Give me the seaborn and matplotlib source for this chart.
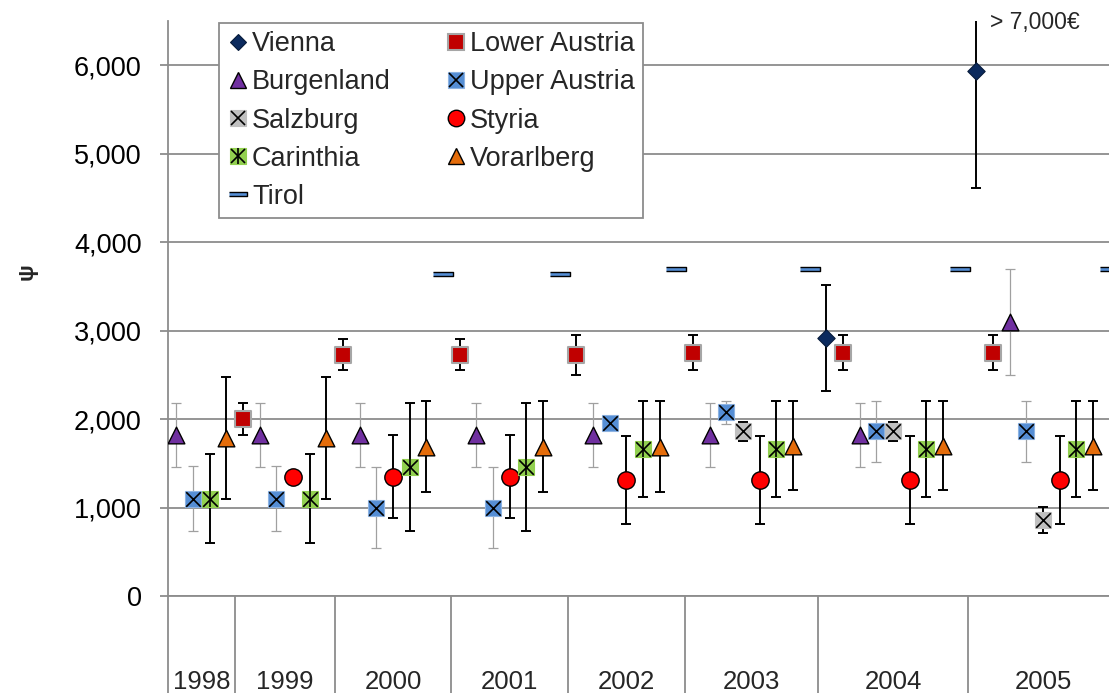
import numpy as np
import pandas as pd
import matplotlib
matplotlib.use("Agg")
import matplotlib.pyplot as plt
from matplotlib.lines import Line2D
from matplotlib.ticker import FuncFormatter
import seaborn as sns

years = ["1998", "1999", "2000", "2001", "2002", "2003", "2004", "2005"]
regions = ["Vienna", "Lower Austria", "Burgenland", "Upper Austria", "Salzburg",
           "Styria", "Carinthia", "Vorarlberg", "Tirol"]

# one entry per category slot on the x axis
cat_year = (["1998"] * 4 + ["1999"] * 6 + ["2000"] * 7 + ["2001"] * 7 + ["2002"] * 7
            + ["2003"] * 8 + ["2004"] * 9 + ["2005"] * 9)
cat_region = [
    "Burgenland", "Upper Austria", "Carinthia", "Vorarlberg",
    "Lower Austria", "Burgenland", "Upper Austria", "Styria", "Carinthia", "Vorarlberg",
    "Lower Austria", "Burgenland", "Upper Austria", "Styria", "Carinthia", "Vorarlberg", "Tirol",
    "Lower Austria", "Burgenland", "Upper Austria", "Styria", "Carinthia", "Vorarlberg", "Tirol",
    "Lower Austria", "Burgenland", "Upper Austria", "Styria", "Carinthia", "Vorarlberg", "Tirol",
    "Lower Austria", "Burgenland", "Upper Austria", "Salzburg", "Styria", "Carinthia",
    "Vorarlberg", "Tirol",
    "Vienna", "Lower Austria", "Burgenland", "Upper Austria", "Salzburg", "Styria",
    "Carinthia", "Vorarlberg", "Tirol",
    "Vienna", "Lower Austria", "Burgenland", "Upper Austria", "Salzburg", "Styria",
    "Carinthia", "Vorarlberg", "Tirol",
]
value = [
    1820, 1100, 1100, 1790,
    2000, 1820, 1100, 1350, 1100, 1790,
    2730, 1820, 1000, 1350, 1460, 1690, 3640,
    2730, 1820, 1000, 1350, 1460, 1690, 3640,
    2725, 1820, 1960, 1310, 1660, 1690, 3700,
    2750, 1820, 2075, 1860, 1310, 1660, 1700, 3700,
    2920, 2750, 1820, 1860, 1860, 1310, 1660, 1700, 3700,
    5930, 2750, 3100, 1860, 860, 1310, 1660, 1700, 3700,
]
error = [
    360, 365, 500, 690,
    180, 360, 365, np.nan, 500, 690,
    180, 360, 455, 470, 725, 512, np.nan,
    180, 360, 455, 470, 725, 512, np.nan,
    222, 360, np.nan, 500, 545, 512, np.nan,
    195, 360, 125, 105, 500, 545, 500, np.nan,
    600, 195, 360, 350, 105, 500, 545, 500, np.nan,
    1320, 195, 600, 350, 145, 500, 545, 500, np.nan,
]

tirol_bar = [(-1, -0.19), (1, -0.19), (1, 0.19), (-1, 0.19)]
style = {
    "Vienna":        dict(marker="D", s=78, color="#0b2a5e", edge="#061a3a", lw=0.8, over=[], ecol="black"),
    "Lower Austria": dict(marker="s", s=144, color="#c00000", edge="#a6a6a6", lw=1.5, over=[], ecol="black"),
    "Burgenland":    dict(marker="^", s=144, color="#7030a0", edge="black", lw=1.0, over=[], ecol="#a0a0a0"),
    "Upper Austria": dict(marker="s", s=144, color="#558ed5", edge="#8db3e2", lw=0.8, over=["x"], ecol="#a0a0a0"),
    "Salzburg":      dict(marker="s", s=144, color="#c0c0c0", edge="#c0c0c0", lw=0.8, over=["x"], ecol="black"),
    "Styria":        dict(marker="o", s=156, color="#ff0000", edge="black", lw=1.0, over=[], ecol="black"),
    "Carinthia":     dict(marker="s", s=144, color="#92d050", edge="#92d050", lw=0.8, over=["x", "|"], ecol="black"),
    "Vorarlberg":    dict(marker="^", s=144, color="#e46c0a", edge="black", lw=1.0, over=[], ecol="black"),
    "Tirol":         dict(marker=tirol_bar, s=207, color="#558ed5", edge="black", lw=1.0, over=[], ecol="black"),
}

df = pd.DataFrame({"year": cat_year, "region": cat_region, "value": value, "err": error})
df["pos"] = np.arange(len(df))

sns.set_theme(style="white")
plt.rcParams["font.family"] = ["Liberation Sans", "DejaVu Sans"]

W, H = 1109, 693
fig = plt.figure(figsize=(W / 100, H / 100), dpi=100)
ax = fig.add_axes([168 / W, 97 / H, 950 / W, 575 / H])

grid_col = "#8c8c8c"
ax.set_xlim(-0.5, len(df) - 0.5)
ax.set_ylim(0, 6500)
ax.set_yticks(range(0, 7000, 1000))
ax.yaxis.set_major_formatter(FuncFormatter(lambda v, p: f"{v:,.0f}"))
ax.yaxis.grid(True, color=grid_col, lw=1.3)
ax.set_axisbelow(True)
ax.set_xticks([])
for side in ["top", "right"]:
    ax.spines[side].set_visible(False)
for side in ["left", "bottom"]:
    ax.spines[side].set_color(grid_col)
    ax.spines[side].set_linewidth(1.3)
ax.tick_params(axis="y", left=True, length=6, width=1.3, color=grid_col, pad=13,
               labelsize=19.5, labelcolor="black")

# error bars
for reg in regions:
    d = df[(df.region == reg) & df.err.notna()]
    if len(d) == 0:
        continue
    gray = style[reg]["ecol"] != "black"
    ax.errorbar(d.pos, d.value, yerr=d.err, fmt="none", ecolor=style[reg]["ecol"],
                elinewidth=0.9 if gray else 1.4, capsize=3.8,
                capthick=0.9 if gray else 1.4, zorder=2)

# markers
for reg in regions:
    d = df[df.region == reg]
    st = style[reg]
    sns.scatterplot(data=d, x="pos", y="value", marker=st["marker"], s=st["s"],
                    color=st["color"], edgecolor=st["edge"], linewidth=st["lw"],
                    ax=ax, zorder=3, legend=False)
    for m in st["over"]:
        ax.scatter(d.pos, d.value, marker=m, s=110 if m == "x" else 130,
                   color="black", linewidth=1.2, zorder=4)
ax.set_xlabel("")
ax.set_ylabel("")

# year group separators and labels below the axis
bounds = [-0.5]
for y in years:
    bounds.append(df.pos[df.year == y].max() + 0.5)
ax.vlines(bounds, 0, -0.18, transform=ax.get_xaxis_transform(), colors=grid_col,
          lw=1.3, clip_on=False)
for i, y in enumerate(years):
    ax.text((bounds[i] + bounds[i + 1]) / 2, -0.1617, y, transform=ax.get_xaxis_transform(),
            ha="center", va="baseline", fontsize=18.5)

ax.text(48.85, 6480, "> 7,000€", ha="left", va="center", fontsize=16.5, clip_on=False)
fig.text(27 / W, 1 - 272 / H, "ψ", rotation=90, ha="center", va="center",
         fontsize=16, fontweight="bold")

# legend
handles = []
for reg in regions:
    st = style[reg]
    base = Line2D([], [], linestyle="none", marker=st["marker"], markersize=np.sqrt(st["s"]) * 0.95,
                  markerfacecolor=st["color"], markeredgecolor=st["edge"], markeredgewidth=st["lw"])
    if st["over"]:
        extra = [Line2D([], [], linestyle="none", marker=m, markersize=10 if m == "x" else 11,
                        color="black", markeredgewidth=1.2) for m in st["over"]]
        handles.append(tuple([base] + extra))
    else:
        handles.append(base)
order = [0, 2, 4, 6, 8, 1, 3, 5, 7]
leg = ax.legend([handles[i] for i in order], [regions[i] for i in order], ncol=2,
                loc="upper left", bbox_to_anchor=(219 / W, 1 - 23 / H),
                bbox_transform=fig.transFigure, borderaxespad=0, fontsize=19.5,
                frameon=True, fancybox=False, edgecolor=grid_col, framealpha=1,
                borderpad=0.3, labelspacing=0.45, handlelength=0.8, handletextpad=0.12,
                columnspacing=2.0)
leg.get_frame().set_linewidth(1.3)
leg.set_zorder(5)

plt.savefig("out.png", dpi=100)
